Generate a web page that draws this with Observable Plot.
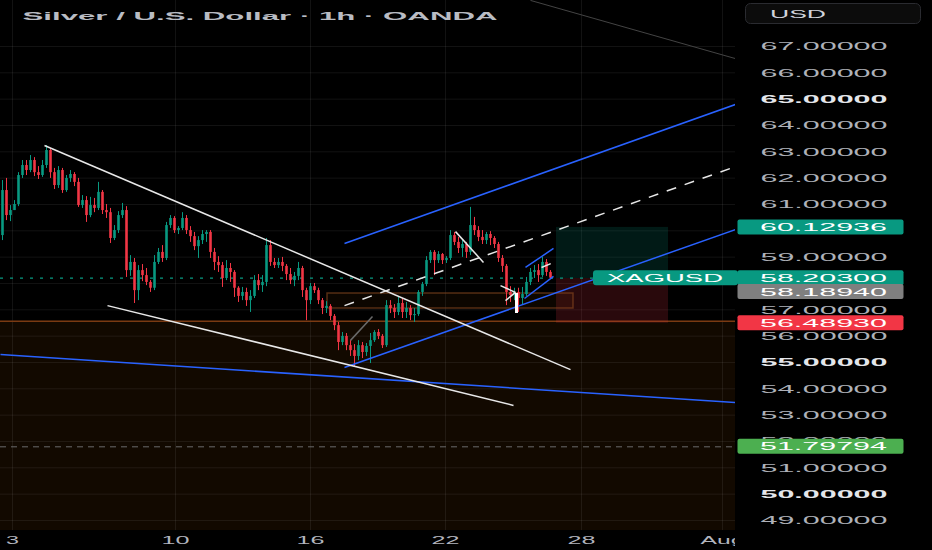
<!DOCTYPE html>
<html>
<head>
<meta charset="utf-8">
<script src="https://cdn.jsdelivr.net/npm/d3@7"></script>
<script src="https://cdn.jsdelivr.net/npm/@observablehq/plot@0.6"></script>
<style>
  html, body { margin: 0; padding: 0; background: #000; }
  #chart svg { display: block; }
</style>
</head>
<body>
<div id="chart"></div>
<script>
// XAG/USD candles (one bar per slot, oldest first)
const OPEN = [
  59.82, 61.53, 60.58, 60.77, 61.00, 62.10, 62.48, 62.29, 62.67, 62.21,
  62.10, 62.48, 63.05, 62.21, 61.72, 62.29, 61.53, 61.99, 62.14, 61.84,
  60.96, 61.15, 60.58, 60.96, 60.85, 61.46, 60.77, 60.69, 59.71, 60.01,
  60.58, 60.77, 58.49, 58.80, 57.73, 58.49, 58.30, 58.04, 57.82, 58.80,
  59.18, 58.95, 60.20, 60.47, 60.01, 60.09, 60.47, 60.01, 59.78, 59.40,
  59.63, 59.86, 59.94, 59.18, 58.80, 58.68, 58.19, 58.57, 58.42, 57.82,
  57.51, 57.66, 57.35, 57.51, 58.11, 57.92, 58.04, 59.44, 58.80, 58.68,
  58.80, 58.65, 58.34, 58.11, 58.27, 58.57, 57.73, 57.35, 57.88, 57.73,
  57.35, 57.05, 57.13, 56.75, 56.40, 55.76, 55.99, 55.64, 55.45, 55.23,
  55.64, 55.38, 55.61, 55.83, 56.14, 55.99, 55.64, 57.16, 57.05, 56.90,
  57.24, 56.90, 57.05, 56.78, 56.82, 57.66, 57.96, 58.87, 59.18, 58.87,
  59.10, 58.87, 58.95, 59.82, 59.56, 59.33, 59.48, 59.18, 60.20, 60.01,
  59.75, 59.63, 59.86, 59.71, 59.48, 58.95, 58.65, 57.66, 57.54, 57.66,
  57.43, 57.58, 58.04, 58.42, 58.49, 58.30, 58.80, 58.42
];
const HIGH = [
  61.91, 61.99, 60.96, 61.15, 62.21, 62.67, 62.67, 62.86, 62.78, 62.44,
  62.67, 63.24, 63.13, 62.37, 62.44, 62.37, 62.10, 62.29, 62.21, 61.99,
  61.34, 61.30, 61.27, 61.23, 61.84, 61.53, 61.00, 60.85, 60.20, 60.73,
  61.04, 60.92, 59.06, 58.95, 58.68, 58.72, 58.57, 58.11, 59.06, 59.33,
  59.44, 60.32, 60.58, 60.54, 60.16, 60.69, 60.58, 60.16, 59.94, 59.78,
  60.01, 60.01, 60.01, 59.33, 59.02, 58.80, 58.87, 58.76, 58.49, 57.88,
  57.85, 57.82, 57.73, 58.30, 58.34, 58.30, 59.71, 59.63, 58.95, 58.95,
  58.99, 58.72, 58.57, 58.42, 58.80, 58.65, 57.82, 58.00, 58.00, 57.82,
  57.43, 57.31, 57.20, 56.82, 56.52, 56.14, 56.10, 55.83, 55.68, 55.83,
  55.76, 55.72, 56.10, 56.21, 56.25, 56.06, 57.35, 57.35, 57.20, 57.47,
  57.43, 57.28, 57.16, 57.05, 57.73, 58.04, 59.02, 59.25, 59.25, 59.21,
  59.14, 59.02, 60.01, 59.94, 59.75, 59.63, 59.56, 60.89, 60.51, 60.16,
  60.01, 59.94, 59.97, 59.78, 59.56, 59.06, 58.72, 57.88, 57.82, 57.82,
  57.85, 58.23, 58.57, 58.68, 58.72, 58.99, 58.91, 58.49
];
const LOW = [
  59.63, 60.39, 60.35, 60.77, 60.92, 61.99, 62.10, 62.21, 62.06, 61.95,
  62.03, 62.37, 61.99, 61.57, 61.61, 61.42, 61.46, 61.84, 61.68, 60.89,
  60.85, 60.32, 60.50, 60.69, 60.77, 60.62, 60.47, 59.52, 59.63, 59.90,
  60.47, 58.23, 58.27, 57.24, 57.35, 58.07, 57.92, 57.66, 57.73, 58.72,
  58.80, 58.87, 60.09, 59.90, 59.86, 60.01, 59.86, 59.56, 59.25, 58.95,
  59.48, 59.56, 58.95, 58.49, 58.42, 57.85, 58.11, 58.04, 57.47, 57.28,
  57.35, 57.13, 56.90, 57.43, 57.73, 57.66, 57.88, 58.65, 58.57, 58.57,
  58.45, 58.11, 57.96, 57.88, 58.11, 57.47, 56.59, 57.20, 57.62, 57.20,
  56.82, 56.86, 56.59, 56.21, 55.45, 55.64, 55.45, 55.23, 54.81, 55.07,
  55.15, 55.23, 54.96, 55.76, 55.87, 55.53, 55.57, 56.86, 56.67, 56.78,
  56.67, 56.67, 56.59, 56.52, 56.75, 57.51, 57.88, 58.76, 58.30, 58.76,
  58.72, 58.76, 58.87, 59.44, 59.14, 58.99, 58.95, 59.06, 59.82, 59.59,
  59.48, 59.48, 59.44, 59.33, 58.80, 58.42, 57.16, 57.28, 57.35, 56.90,
  57.20, 57.51, 57.92, 58.19, 58.04, 58.23, 58.27, 58.15
];
const CLOSE = [
  61.53, 60.58, 60.77, 61.00, 62.10, 62.48, 62.29, 62.67, 62.21, 62.10,
  62.48, 63.05, 62.21, 61.72, 62.29, 61.53, 61.99, 62.14, 61.84, 60.96,
  61.15, 60.58, 60.96, 60.85, 61.46, 60.77, 60.69, 59.71, 60.01, 60.58,
  60.77, 58.49, 58.80, 57.73, 58.49, 58.30, 58.04, 57.82, 58.80, 59.18,
  58.95, 60.20, 60.47, 60.01, 60.09, 60.47, 60.01, 59.78, 59.40, 59.63,
  59.86, 59.94, 59.18, 58.80, 58.68, 58.19, 58.57, 58.42, 57.82, 57.51,
  57.66, 57.35, 57.51, 58.11, 57.92, 58.04, 59.44, 58.80, 58.68, 58.80,
  58.65, 58.34, 58.11, 58.27, 58.57, 57.73, 57.35, 57.88, 57.73, 57.35,
  57.05, 57.13, 56.75, 56.40, 55.76, 55.99, 55.64, 55.45, 55.23, 55.64,
  55.38, 55.61, 55.83, 56.14, 55.99, 55.64, 57.16, 57.05, 56.90, 57.24,
  56.90, 57.05, 56.78, 56.82, 57.66, 57.96, 58.87, 59.18, 58.87, 59.10,
  58.87, 58.95, 59.82, 59.56, 59.33, 59.48, 59.18, 60.20, 60.01, 59.75,
  59.63, 59.86, 59.71, 59.48, 58.95, 58.65, 57.66, 57.54, 57.66, 57.43,
  57.58, 58.04, 58.42, 58.49, 58.30, 58.80, 58.42, 58.203
];

// Price axis and day axis
const PRICE_TICKS = [49, 50, 51, 52, 53, 54, 55, 56, 57, 58, 59, 60, 61, 62, 63, 64, 65, 66, 67];
const LABELED_TICKS = [49, 51, 52, 53, 54, 56, 57, 59, 61, 62, 63, 64, 66, 67];
const BOLD_TICKS = [50, 55, 65];
const DAY_TICKS = [2.5, 43.25, 77, 110.75, 144.75, 180];
const DAY_LABELS = ["3", "10", "16", "22", "28", "Aug"];
const TITLE = "Silver / U.S. Dollar · 1h · OANDA";

// Key levels
const LAST_PRICE = 58.203;
const MARK_PRICE = 58.1894;
const TARGET_PRICE = 60.12936;
const STOP_PRICE = 56.4893;
const ALERT_PRICE = 51.79794;
const ZONE_TOP = 56.57;

// Drawings (bar index, price)
const WHITE_LINES = [
  {x1: 10.5, y1: 63.24, x2: 142, y2: 54.73},
  {x1: 26.25, y1: 57.16, x2: 127.75, y2: 53.37},
  {x1: 113.25, y1: 59.97, x2: 120.25, y2: 58.80},
  {x1: 124.5, y1: 57.92, x2: 128.25, y2: 57.66},
  {x1: 125.75, y1: 57.35, x2: 128.25, y2: 57.66}
];
const BLUE_LINES = [
  {x1: -0.5, y1: 55.30, x2: 183.25, y2: 53.48},
  {x1: 85.5, y1: 59.52, x2: 183.25, y2: 64.80},
  {x1: 85.5, y1: 54.81, x2: 183.25, y2: 60.05},
  {x1: 130.75, y1: 58.61, x2: 137.75, y2: 59.33},
  {x1: 130.5, y1: 57.43, x2: 137.75, y2: 58.27}
];
const DASHED_LINES = [
  {x1: 85.5, y1: 57.16, x2: 183.25, y2: 62.44},
  {x1: 134.75, y1: 58.61, x2: 137.75, y2: 58.80}
];
const GREY_LINES = [
  {x1: 87, y1: 55.84, x2: 92.5, y2: 56.75}
];
const FAINT_LINES = [
  {x1: 132, y1: 68.75, x2: 183.25, y2: 66.54}
];
const RANGE_BOX = [{x1: 81.25, x2: 142.75, y1: 57.05, y2: 57.62}];
const POSITION = [{x1: 138.5, x2: 166.5}];
const MARKER_BAR = [{x: 128.5, y1: 56.86, y2: 57.62}];

const X_DOMAIN = [-0.5, 183.25];
const Y_DOMAIN = [48.62, 68.747];
const UP = "#089981", DOWN = "#f23645";
const FONT = "'Liberation Sans', Arial, sans-serif";

const candles = CLOSE.map((close, i) => ({i, open: OPEN[i], high: HIGH[i], low: LOW[i], close}));
const rising = candles.filter(d => d.close >= d.open);
const falling = candles.filter(d => d.close < d.open);
const seg = {x1: "x1", y1: "y1", x2: "x2", y2: "y2"};

const chart = Plot.plot({
  width: 932,
  height: 550,
  marginTop: 0,
  marginRight: 197,
  marginBottom: 20,
  marginLeft: 0,
  x: {domain: X_DOMAIN},
  y: {domain: Y_DOMAIN},
  style: {background: "#000", color: "#b2b5be", fontFamily: FONT, fontSize: "11.5px"},
  marks: [
    // support zone below the stop level
    Plot.rect([ZONE_TOP], {x1: () => X_DOMAIN[0], x2: () => X_DOMAIN[1], y1: () => Y_DOMAIN[0], y2: d => d, fill: "#f57c00", fillOpacity: 0.075}),
    Plot.gridY({ticks: PRICE_TICKS, stroke: "#fff", strokeOpacity: 0.07}),
    Plot.gridX({ticks: DAY_TICKS, stroke: "#fff", strokeOpacity: 0.07}),
    Plot.ruleY([ZONE_TOP], {stroke: "#7a3a12", strokeWidth: 1.5}),
    // long position: target / stop
    Plot.rect(POSITION, {x1: "x1", x2: "x2", y1: () => MARK_PRICE, y2: () => TARGET_PRICE, fill: UP, fillOpacity: 0.17}),
    Plot.rect(POSITION, {x1: "x1", x2: "x2", y1: () => STOP_PRICE, y2: () => MARK_PRICE, fill: DOWN, fillOpacity: 0.17}),
    // range box
    Plot.rect(RANGE_BOX, {...seg, fill: "#f57c00", fillOpacity: 0.05, stroke: "#8a4a20", strokeOpacity: 0.6, strokeWidth: 1.5}),
    // alert and last price lines
    Plot.ruleY([ALERT_PRICE], {stroke: "#6b6b6b", strokeDasharray: "6,5"}),
    Plot.ruleY([LAST_PRICE], {stroke: UP, strokeDasharray: "3,7", strokeWidth: 1.2}),
    // candles
    Plot.ruleX(rising, {x: "i", y1: "low", y2: "high", stroke: UP}),
    Plot.ruleX(falling, {x: "i", y1: "low", y2: "high", stroke: DOWN}),
    Plot.ruleX(rising, {x: "i", y1: "open", y2: "close", stroke: UP, strokeWidth: 2.6}),
    Plot.ruleX(falling, {x: "i", y1: "open", y2: "close", stroke: DOWN, strokeWidth: 2.6}),
    // drawings
    Plot.link(FAINT_LINES, {...seg, stroke: "#444", strokeWidth: 1, clip: true}),
    Plot.link(BLUE_LINES, {...seg, stroke: "#2962ff", strokeWidth: 1.5, clip: true}),
    Plot.link(WHITE_LINES, {...seg, stroke: "#e8e8e8", strokeWidth: 1.5, clip: true}),
    Plot.link(DASHED_LINES, {...seg, stroke: "#e8e8e8", strokeWidth: 1.5, strokeDasharray: "10,9", clip: true}),
    Plot.link(GREY_LINES, {...seg, stroke: "#6a6a6a", strokeWidth: 1.5}),
    Plot.ruleX(MARKER_BAR, {x: "x", y1: "y1", y2: "y2", stroke: "#fff", strokeWidth: 3}),
    // axes
    Plot.axisY(LABELED_TICKS, {anchor: "right", tickSize: 0, tickPadding: 25, textAnchor: "start", tickFormat: d => d.toFixed(5), fill: "#aeb1b8", fontSize: 11.5}),
    Plot.axisY(BOLD_TICKS, {anchor: "right", tickSize: 0, tickPadding: 25, textAnchor: "start", tickFormat: d => d.toFixed(5), fill: "#e4e6ea", fontWeight: "bold", fontSize: 11.5}),
    Plot.axisX(DAY_TICKS, {anchor: "bottom", tickSize: 0, tickPadding: 5, tickFormat: d => DAY_LABELS[DAY_TICKS.indexOf(d)], fill: "#b2b5be", fontSize: 11.5}),
    // title
    Plot.text([TITLE], {frameAnchor: "top-left", dx: 22, dy: 12, textAnchor: "start", fill: "#b9bcc3", fontWeight: "bold", fontSize: 10.5})
  ]
});

document.getElementById("chart").appendChild(chart);

// Stretch the text to the wide chart typography
const svg = d3.select(chart);
const stretch = (sel, len) => sel.attr("textLength", len).attr("lengthAdjust", "spacingAndGlyphs");
stretch(svg.selectAll('g[aria-label="y-axis tick label"] text'), 127);
svg.selectAll('g[aria-label="x-axis tick label"] text').each(function () {
  const n = this.textContent.length;
  stretch(d3.select(this), n === 1 ? 13 : n === 2 ? 28 : 44);
});
stretch(svg.selectAll("text").filter(function () { return this.textContent === TITLE; }), 475);

// Price scale overlays
const y = chart.scale("y");
const overlay = svg.append("g").attr("font-family", FONT).attr("font-size", 11.5).attr("text-anchor", "start");
overlay.append("rect").attr("x", 735).attr("y", 530).attr("width", 197).attr("height", 20).attr("fill", "#000");

// currency button
overlay.append("rect").attr("x", 745.5).attr("y", 3.5).attr("width", 175).attr("height", 20).attr("rx", 5)
  .attr("fill", "#0c0c0c").attr("stroke", "#2a2b30");
stretch(overlay.append("text").attr("x", 770).attr("y", 13.5).attr("dy", "0.35em").attr("fill", "#d1d4dc").text("USD"), 56);

const BADGES = [
  {value: TARGET_PRICE, fill: UP, shift: 0},
  {value: LAST_PRICE, fill: UP, shift: 0},
  {value: MARK_PRICE, fill: "#7f7f7f", shift: 13.5},
  {value: STOP_PRICE, fill: DOWN, shift: 0},
  {value: ALERT_PRICE, fill: "#4caf50", shift: 0}
];
for (const b of BADGES) {
  const cy = y.apply(b.value) + b.shift;
  overlay.append("rect").attr("x", 737.5).attr("y", cy - 7.5).attr("width", 166).attr("height", 15).attr("rx", 2).attr("fill", b.fill);
  stretch(overlay.append("text").attr("x", 760).attr("y", cy).attr("dy", "0.36em").attr("fill", "#fff").text(b.value.toFixed(5)), 127);
}

// symbol tag on the last price
const ly = y.apply(LAST_PRICE);
overlay.append("rect").attr("x", 593).attr("y", ly - 7.5).attr("width", 145).attr("height", 15).attr("rx", 3).attr("fill", UP);
stretch(overlay.append("text").attr("x", 607).attr("y", ly).attr("dy", "0.36em").attr("fill", "#fff").text("XAGUSD"), 116);
</script>
</body>
</html>
